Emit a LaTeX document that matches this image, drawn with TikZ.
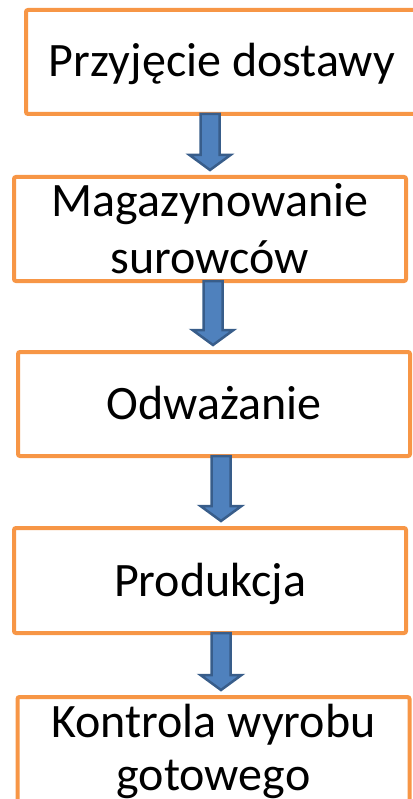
\documentclass[tikz,border=0pt]{standalone}
\usepackage{fontspec}
\setmainfont{Carlito}
\usetikzlibrary{calc}
\definecolor{boxorange}{HTML}{F79646}
\definecolor{arrowfill}{HTML}{4F81BD}
\definecolor{arrowline}{HTML}{385D8A}
\tikzset{
  flowbox/.style={draw=boxorange, line width=4pt, rounded corners=2pt, fill=white,
    inner sep=0pt, align=center, text height=32pt},
  blockarr/.style={fill=arrowfill, draw=arrowline, line width=2.5pt, line join=miter}
}
% #1 from node, #2 to node, #3 x position (pt)
\newcommand\flowarrow[3]{%
  \draw[blockarr] let \p1=(#1.south), \p2=(#2.north) in
    ({#3pt-9.5pt},{\y1+2pt}) -- ({#3pt-9.5pt},{\y2+20pt}) -- ({#3pt-20.5pt},{\y2+20pt})
    -- ({#3pt},{\y2+5pt}) -- ({#3pt+20.5pt},{\y2+20pt}) -- ({#3pt+9.5pt},{\y2+20pt})
    -- ({#3pt+9.5pt},{\y1+2pt}) -- cycle;}
\begin{document}
\begin{tikzpicture}[x=1pt,y=-1pt]
\useasboundingbox (0,0) rectangle (412,799);
\node[flowbox, minimum width=392pt, minimum height=104pt, text depth=2pt,
  font=\fontsize{48}{57}\selectfont] (b1) at (222,62) {Przyjęcie dostawy};
\node[flowbox, minimum width=392pt, minimum height=104pt, text height=89pt, text depth=0pt,
  font=\fontsize{48}{57}\selectfont] (b2) at (210,229) {Magazynowanie\\surowców};
\node[flowbox, minimum width=392pt, minimum height=104pt, text depth=2pt,
  font=\fontsize{48}{57}\selectfont] (b3) at (214,404) {Odważanie};
\node[flowbox, minimum width=392pt, minimum height=105pt, text depth=0pt,
  font=\fontsize{48}{57}\selectfont] (b4) at (210,580.5) {Produkcja};
\node[flowbox, minimum width=392pt, minimum height=109pt, text height=85pt, text depth=8pt,
  font=\fontsize{48}{53}\selectfont] (b5) at (213.5,751.5) {Kontrola wyrobu\\gotowego};
\flowarrow{b1}{b2}{210}
\flowarrow{b2}{b3}{213}
\flowarrow{b3}{b4}{221}
\flowarrow{b4}{b5}{221}
\end{tikzpicture}
\end{document}
